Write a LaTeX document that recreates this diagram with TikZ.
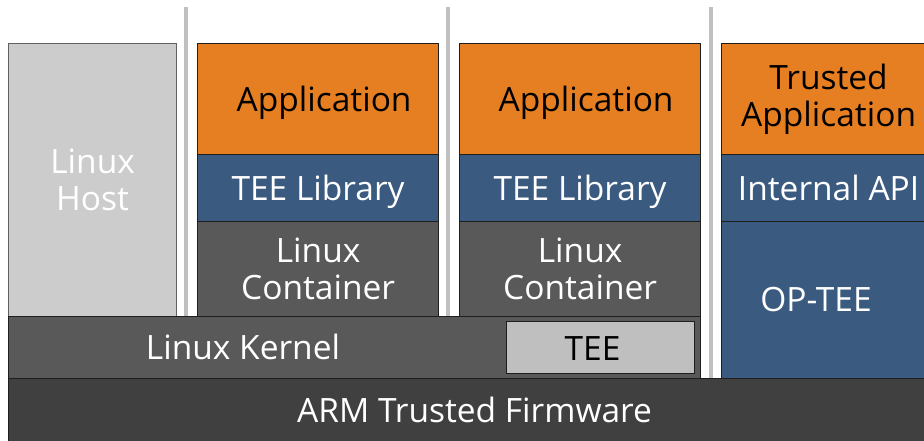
\documentclass[tikz,border=0pt]{standalone}
\usepackage{fontspec}
\setmainfont{Open Sans}
\usepackage{tikz}
\definecolor{AppOrange}{RGB}{230,126,34}
\definecolor{LibBlue}{RGB}{58,90,128}
\definecolor{MidGray}{RGB}{89,89,89}
\definecolor{DarkGray}{RGB}{64,64,64}
\definecolor{HostGray}{RGB}{204,204,204}
\definecolor{TeeGray}{RGB}{191,191,191}
\definecolor{SepGray}{RGB}{192,192,192}
\definecolor{Edge}{RGB}{30,30,30}
\newcommand\sz[1]{\fontsize{#1}{37}\selectfont}
\newcommand\strutTop{\rule{0pt}{35pt}}
\newcommand\strutBot{\rule[-10pt]{0pt}{10pt}}

\begin{document}
\begin{tikzpicture}[x=1pt, y=-1pt,
    layer/.style={draw=Edge, line width=1.2pt, anchor=north west, inner sep=0pt,
      align=center, font=\sz{33.5}},
    oneline/.style={execute at begin node=\strutTop, execute at end node=\strutBot},
    nudge/.style={execute at begin node={\hspace*{#1}}},
    sep/.style={draw=SepGray, line width=4pt},
    word/.style={align=center, font=\sz{33.5}}]
    \useasboundingbox (0, 0) rectangle (924, 441);
    \clip (0, 0) rectangle (924, 441);

    \coordinate (Host) at (8, 43);
    \coordinate (AppA) at (197, 43);
    \coordinate (LibA) at (197, 154);
    \coordinate (ConA) at (197, 221);
    \coordinate (AppB) at (459, 43);
    \coordinate (LibB) at (459, 154);
    \coordinate (ConB) at (459, 221);
    \coordinate (Ta) at (721, 43);
    \coordinate (Api) at (721, 154);
    \coordinate (Op) at (721, 221);
    \coordinate (Kern) at (8, 316);
    \coordinate (Tee) at (506, 321);
    \coordinate (Atf) at (8, 378);

    \coordinate (SepA) at (186, 7);
    \coordinate (SepAb) at (186, 316);
    \coordinate (SepB) at (448, 7);
    \coordinate (SepBb) at (448, 316);
    \coordinate (SepC) at (711, 7);
    \coordinate (SepCb) at (711, 378);

    \node[layer, fill=HostGray, draw=Edge!70, text=white, minimum width=168pt, minimum height=273pt] (host) at (Host) {Linux\\Host};

    \node[layer, oneline, nudge=12pt, fill=AppOrange, minimum width=241pt, minimum height=111pt] (appa) at (AppA) {Application};
    \node[layer, oneline, fill=LibBlue, text=white, minimum width=241pt, minimum height=67pt] (liba) at (LibA) {TEE Library};
    \node[layer, fill=MidGray, text=white, minimum width=241pt, minimum height=95pt] (cona) at (ConA) {Linux\\Container};

    \node[layer, oneline, nudge=12pt, fill=AppOrange, minimum width=241pt, minimum height=111pt] (appb) at (AppB) {Application};
    \node[layer, oneline, fill=LibBlue, text=white, minimum width=241pt, minimum height=67pt] (libb) at (LibB) {TEE Library};
    \node[layer, fill=MidGray, text=white, minimum width=241pt, minimum height=95pt] (conb) at (ConB) {Linux\\Container};

    \node[layer, fill=AppOrange, minimum width=214pt, minimum height=111pt] (ta) at (Ta) {Trusted\\Application};
    \node[layer, oneline, fill=LibBlue, text=white, minimum width=214pt, minimum height=67pt] (api) at (Api) {Internal API};
    \node[layer, fill=LibBlue, minimum width=214pt, minimum height=157pt] (optee) at (Op) {};
    \node[word, text=white] (opteetext) at (816, 300) {OP-TEE};

    \node[layer, fill=MidGray, minimum width=692pt, minimum height=62pt] (kernel) at (Kern) {};
    \node[word, text=white] (kerneltext) at (243, 347) {Linux Kernel};
    \node[layer, oneline, nudge=-16pt, fill=TeeGray, minimum width=188pt, minimum height=52pt] (tee) at (Tee) {TEE};

    \node[layer, oneline, fill=DarkGray, text=white, minimum width=932pt, minimum height=63pt] (atf) at (Atf) {ARM Trusted Firmware};

    \draw[sep] (SepA) -- (SepAb);
    \draw[sep] (SepB) -- (SepBb);
    \draw[sep] (SepC) -- (SepCb);

  \end{tikzpicture}
\end{document}
